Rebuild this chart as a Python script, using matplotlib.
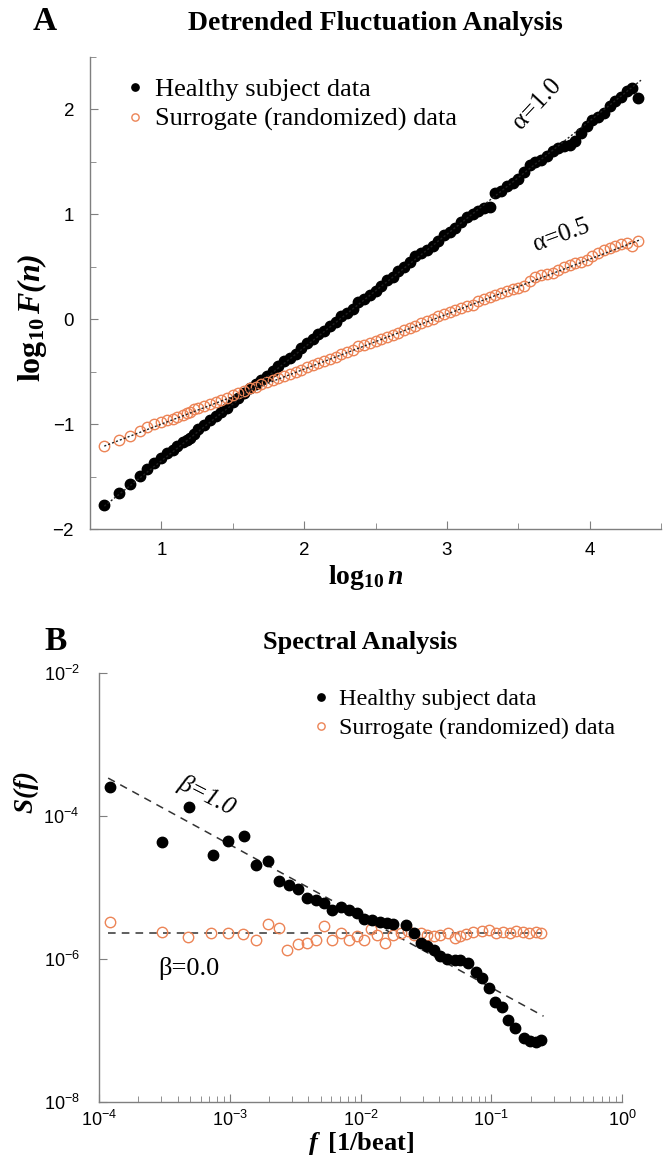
import numpy as np
import matplotlib
matplotlib.use("Agg")
import matplotlib.pyplot as plt
from matplotlib.ticker import MultipleLocator, NullLocator, LogLocator, FixedLocator

plt.rcParams['mathtext.fontset'] = 'custom'
plt.rcParams['mathtext.rm'] = 'Liberation Sans'
plt.rcParams['mathtext.bf'] = 'Liberation Serif:bold'
plt.rcParams['mathtext.bfit'] = 'Liberation Serif:bold:italic'
plt.rcParams['mathtext.it'] = 'Liberation Serif:italic'
plt.rcParams['font.family'] = 'Liberation Sans'

# ---------------- Panel A data (DFA) ----------------
dfa_log_n = [0.60, 0.70, 0.78, 0.85, 0.90, 0.95, 1.00, 1.04, 1.08, 1.11, 1.15, 1.18, 1.20, 1.23, 1.26,
             1.30, 1.34, 1.38, 1.42, 1.46, 1.50, 1.54, 1.58, 1.62, 1.66, 1.70, 1.74, 1.78, 1.82, 1.86,
             1.90, 1.94, 1.98, 2.02, 2.06, 2.10, 2.14, 2.18, 2.22, 2.26, 2.30, 2.34, 2.38, 2.42, 2.46,
             2.50, 2.54, 2.58, 2.62, 2.66, 2.70, 2.74, 2.78, 2.82, 2.86, 2.90, 2.94, 2.98, 3.02, 3.06,
             3.10, 3.14, 3.18, 3.22, 3.26, 3.30, 3.34, 3.38, 3.42, 3.46, 3.50, 3.54, 3.58, 3.62, 3.66,
             3.70, 3.74, 3.78, 3.82, 3.86, 3.90, 3.94, 3.98, 4.02, 4.06, 4.10, 4.14, 4.18, 4.22, 4.26,
             4.30, 4.34]
dfa_healthy = [-1.77, -1.66, -1.57, -1.49, -1.43, -1.37, -1.32, -1.28, -1.25, -1.21, -1.17, -1.15, -1.13, -1.09, -1.05,
               -1.01, -0.96, -0.92, -0.88, -0.85, -0.79, -0.75, -0.70, -0.66, -0.62, -0.58, -0.54, -0.49, -0.45, -0.40,
               -0.37, -0.33, -0.27, -0.23, -0.19, -0.14, -0.11, -0.06, -0.03, 0.03, 0.06, 0.10, 0.16, 0.19, 0.23,
               0.27, 0.32, 0.37, 0.40, 0.46, 0.50, 0.55, 0.60, 0.63, 0.66, 0.70, 0.75, 0.80, 0.83, 0.87,
               0.93, 0.97, 1.00, 1.03, 1.06, 1.07, 1.20, 1.22, 1.27, 1.30, 1.34, 1.40, 1.47, 1.50, 1.52,
               1.56, 1.60, 1.63, 1.65, 1.66, 1.70, 1.78, 1.84, 1.90, 1.93, 1.97, 2.03, 2.08, 2.12, 2.18,
               2.20, 2.11]
dfa_surrogate = [-1.21, -1.15, -1.11, -1.07, -1.03, -1.00, -0.98, -0.96, -0.95, -0.93, -0.91, -0.89, -0.88, -0.86, -0.85,
                 -0.83, -0.81, -0.79, -0.77, -0.75, -0.72, -0.70, -0.68, -0.66, -0.65, -0.62, -0.60, -0.58, -0.56, -0.54,
                 -0.52, -0.50, -0.48, -0.46, -0.44, -0.42, -0.40, -0.38, -0.36, -0.33, -0.31, -0.29, -0.26, -0.25, -0.23,
                 -0.21, -0.19, -0.17, -0.15, -0.13, -0.10, -0.08, -0.06, -0.04, -0.02, 0.00, 0.03, 0.05, 0.07, 0.09,
                 0.11, 0.13, 0.14, 0.17, 0.19, 0.21, 0.23, 0.25, 0.27, 0.29, 0.30, 0.32, 0.36, 0.40, 0.42,
                 0.43, 0.44, 0.47, 0.50, 0.52, 0.54, 0.55, 0.56, 0.60, 0.63, 0.66, 0.68, 0.70, 0.72, 0.73,
                 0.70, 0.75]
# fitted lines: (slope, intercept)
dfa_fit_healthy = (1.08, -2.43)
dfa_fit_surrogate = (0.524, -1.524)
dfa_fit_range = (0.60, 4.36)

# ---------------- Panel B data (spectra, log10 values) ----------------
spec_logf_healthy = [-3.914, -3.52, -3.31, -3.13, -3.01, -2.89, -2.80, -2.71, -2.62, -2.55, -2.48, -2.41, -2.34,
                     -2.28, -2.22, -2.15, -2.09, -2.03, -1.97, -1.91, -1.85, -1.80, -1.75, -1.65, -1.59, -1.54,
                     -1.49, -1.44, -1.39, -1.34, -1.28, -1.24, -1.18, -1.12, -1.07, -1.02, -0.97, -0.92, -0.87,
                     -0.82, -0.75, -0.70, -0.66, -0.62]
spec_logS_healthy = [-3.60, -4.36, -3.87, -4.54, -4.35, -4.28, -4.68, -4.63, -4.91, -4.96, -5.02, -5.15, -5.18,
                     -5.22, -5.31, -5.27, -5.31, -5.36, -5.44, -5.46, -5.48, -5.49, -5.51, -5.52, -5.63, -5.78,
                     -5.82, -5.87, -5.96, -6.00, -6.01, -6.01, -6.06, -6.18, -6.27, -6.41, -6.60, -6.67, -6.86,
                     -6.97, -7.10, -7.14, -7.16, -7.13]
spec_logf_surrogate = [-3.914, -3.52, -3.32, -3.14, -3.01, -2.90, -2.80, -2.71, -2.62, -2.56, -2.48, -2.41, -2.34,
                       -2.28, -2.22, -2.15, -2.09, -2.03, -1.97, -1.92, -1.87, -1.81, -1.75, -1.69, -1.64, -1.59,
                       -1.54, -1.49, -1.44, -1.39, -1.33, -1.28, -1.24, -1.19, -1.14, -1.07, -1.02, -0.96, -0.91,
                       -0.86, -0.81, -0.76, -0.71, -0.66, -0.62]
spec_logS_surrogate = [-5.48, -5.62, -5.69, -5.63, -5.64, -5.65, -5.73, -5.51, -5.57, -5.87, -5.79, -5.77, -5.73,
                       -5.54, -5.73, -5.64, -5.73, -5.68, -5.73, -5.58, -5.66, -5.77, -5.67, -5.64, -5.61, -5.67,
                       -5.63, -5.67, -5.68, -5.66, -5.64, -5.70, -5.68, -5.65, -5.62, -5.61, -5.60, -5.64, -5.62,
                       -5.63, -5.61, -5.62, -5.63, -5.62, -5.64]
spec_fit_beta1 = (-1.0, -7.40)   # slope, intercept in log-log
spec_fit_beta0 = (0.0, -5.64)
spec_fit_range = (-3.93, -0.60)

ORANGE = '#EC8456'
GRAY = '#7f7f7f'
SERIF = 'Liberation Serif'

W, H = 663, 1156
fig = plt.figure(figsize=(W / 100, H / 100), dpi=100)

def ax_rect(l, t, r, b):
    return [l / W, 1 - b / H, (r - l) / W, (b - t) / H]

def style_axes(ax, lsize):
    for s in ['top', 'right']:
        ax.spines[s].set_visible(False)
    for s in ['left', 'bottom']:
        ax.spines[s].set_color(GRAY)
        ax.spines[s].set_linewidth(1.0)
    ax.tick_params(which='both', direction='in', color=GRAY, labelsize=lsize)
    ax.tick_params(which='major', length=6)
    ax.tick_params(which='minor', length=4)

# ---------------- Panel A ----------------
axA = fig.add_axes(ax_rect(90, 57, 661, 529))
style_axes(axA, 13.5)
axA.tick_params(axis='y', which='both', pad=11.5)
axA.tick_params(axis='x', which='both', pad=9)
xA = np.array(dfa_log_n)
axA.plot(xA, dfa_healthy, 'o', color='black', ms=7.5, mec='black', label='Healthy subject data', zorder=2)
axA.plot(xA, dfa_surrogate, 'o', mfc='none', mec=ORANGE, mew=1.0, ms=7.5, label='Surrogate (randomized) data', zorder=2)
xf = np.array(dfa_fit_range)
axA.plot(xf, dfa_fit_healthy[0] * xf + dfa_fit_healthy[1], color='#222222', lw=1.0, ls=(0, (1.5, 1.5)), zorder=3)
axA.plot(xf, dfa_fit_surrogate[0] * xf + dfa_fit_surrogate[1], color='#222222', lw=1.0, ls=(0, (1.5, 1.5)), zorder=3)
axA.set_xlim(0.5, 4.5)
axA.set_ylim(-2, 2.5)
axA.xaxis.set_major_locator(FixedLocator([1, 2, 3, 4]))
axA.xaxis.set_minor_locator(MultipleLocator(0.5))
axA.yaxis.set_major_locator(FixedLocator([-2, -1, 0, 1, 2]))
axA.yaxis.set_minor_locator(MultipleLocator(0.5))
axA.set_yticklabels(['\u22122', '\u22121', '0', '1', '2'])
axA.set_xlabel(r'$\mathbf{log}_{\mathbf{10}}\,\mathbfit{n}$', fontsize=20)
axA.xaxis.set_label_coords(0.482, -0.072)
axA.set_ylabel(r'$\mathbf{log}_{\mathbf{10}}\,\mathbfit{F(n)}$', fontsize=23)
axA.yaxis.set_label_coords(-0.072, 0.447)
axA.legend(loc='upper left', bbox_to_anchor=(0.065, 0.957), frameon=False,
           prop={'family': SERIF, 'size': 19}, handlelength=0.6, handletextpad=0.45,
           labelspacing=0.25, borderpad=0, borderaxespad=0, markerscale=0.7)
axA.text(3.63, 2.05, '\u03b1=1.0', family=SERIF, fontsize=18.5, rotation=47, ha='center', va='center')
axA.text(3.80, 0.80, '\u03b1=0.5', family=SERIF, fontsize=18, rotation=20, ha='center', va='center')

fig.text(45 / W, 1 - 22 / H, 'A', family=SERIF, weight='bold', fontsize=24, ha='center', va='center')
fig.text(375 / W, 1 - 24 / H, 'Detrended Fluctuation Analysis', family=SERIF, weight='bold', fontsize=20,
         ha='center', va='center')

# ---------------- Panel B ----------------
axB = fig.add_axes(ax_rect(99, 673, 622, 1102))
style_axes(axB, 13)
axB.tick_params(axis='y', which='both', pad=14)
axB.tick_params(axis='x', which='both', pad=6)
axB.set_xscale('log')
axB.set_yscale('log')
fh = 10 ** np.array(spec_logf_healthy)
Sh = 10 ** np.array(spec_logS_healthy)
fs = 10 ** np.array(spec_logf_surrogate)
Ss = 10 ** np.array(spec_logS_surrogate)
axB.plot(fh, Sh, 'o', color='black', ms=7.5, label='Healthy subject data', zorder=3)
axB.plot(fs, Ss, 'o', mfc='none', mec=ORANGE, mew=1.0, ms=7.5, label='Surrogate (randomized) data', zorder=2)
lf = np.array(spec_fit_range)
axB.plot(10 ** lf, 10 ** (spec_fit_beta1[0] * lf + spec_fit_beta1[1]), color='#333333', lw=1.1, ls=(0, (5, 4)), zorder=1)
axB.plot(10 ** lf, 10 ** (spec_fit_beta0[0] * lf + spec_fit_beta0[1]), color='#333333', lw=1.1, ls=(0, (5, 4)), zorder=1)
axB.set_xlim(1e-4, 1)
axB.set_ylim(1e-8, 1e-2)
axB.xaxis.set_major_locator(LogLocator(base=10, numticks=10))
axB.xaxis.set_minor_locator(LogLocator(base=10, subs=np.arange(2, 10), numticks=20))
axB.yaxis.set_major_locator(FixedLocator([1e-8, 1e-6, 1e-4, 1e-2]))
axB.yaxis.set_minor_locator(NullLocator())
axB.set_xlabel(r'$\mathbfit{f}\;\;\mathbf{[1/beat]}$', fontsize=19, labelpad=0)
axB.set_ylabel(r'$\mathbfit{S(f)}$', fontsize=19.5)
axB.yaxis.set_label_coords(-0.11, 0.72)
axB.legend(loc='upper left', bbox_to_anchor=(0.411, 0.964), frameon=False,
           prop={'family': SERIF, 'size': 17.4}, handlelength=0.6, handletextpad=0.45,
           labelspacing=0.28, borderpad=0, borderaxespad=0, markerscale=0.7)
axB.text(10 ** -3.18, 10 ** -3.71, '\u03b2=1.0', family=SERIF, style='italic', fontsize=18, rotation=-27,
         ha='center', va='center')
axB.text(10 ** -3.31, 10 ** -6.13, '\u03b2=0.0', family=SERIF, fontsize=19, ha='center', va='center')

fig.text(56 / W, 1 - 642 / H, 'B', family=SERIF, weight='bold', fontsize=24, ha='center', va='center')
fig.text(360 / W, 1 - 642 / H, 'Spectral Analysis', family=SERIF, weight='bold', fontsize=19,
         ha='center', va='center')

fig.savefig('out.png', dpi=100)
